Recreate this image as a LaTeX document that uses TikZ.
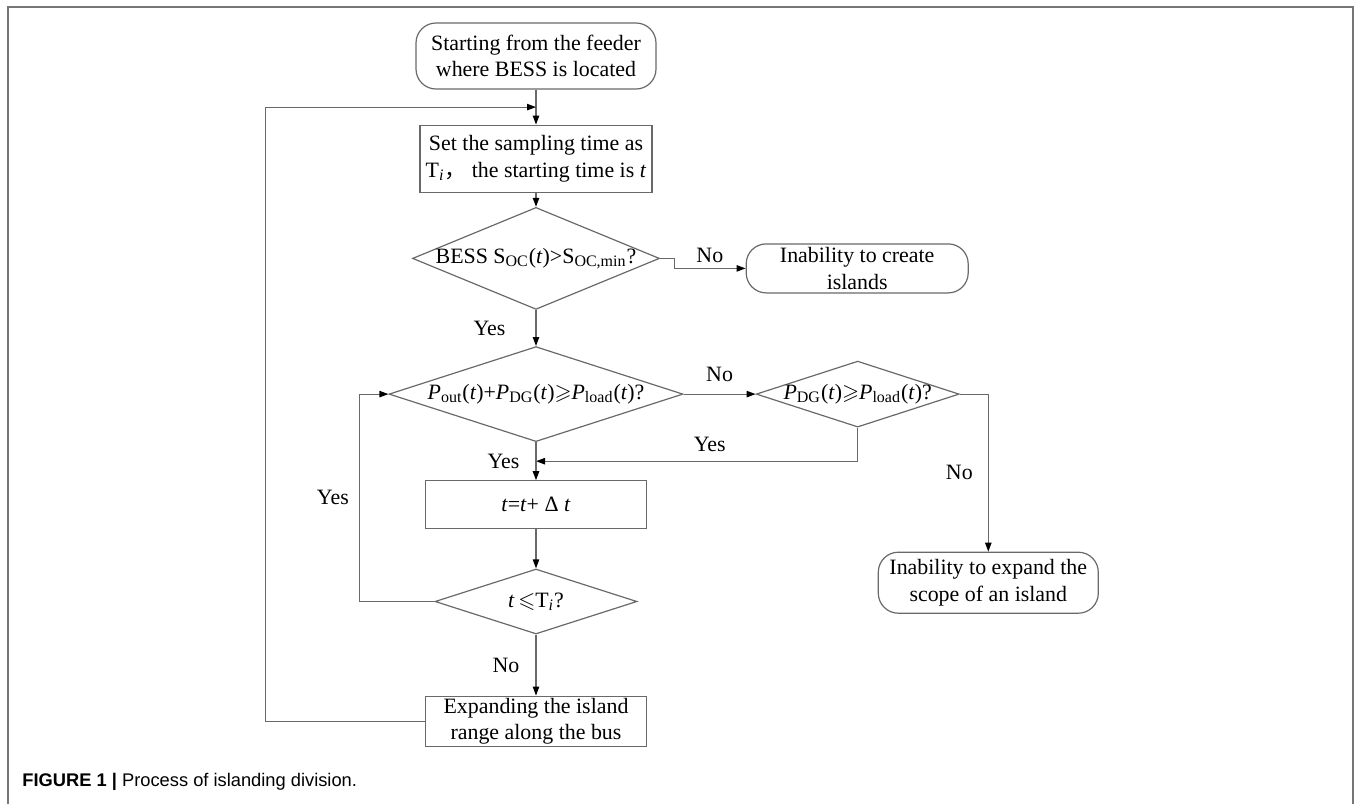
\documentclass[tikz,border=0pt]{standalone}
\usepackage{fontspec}
\usepackage{amssymb}
\setmainfont{Liberation Serif}
\newfontfamily\capfont{Liberation Sans}
\newfontfamily\cjk{Noto Sans CJK SC}
\usetikzlibrary{positioning,arrows.meta,shapes.geometric,calc}
\definecolor{linegray}{RGB}{105,105,105}
\definecolor{framegray}{RGB}{118,118,118}

\begin{document}
\begin{tikzpicture}[
  font=\fontsize{10.95}{13.2}\selectfont,
  term/.style={draw=linegray, line width=0.6pt, rounded corners=10pt, align=center, inner sep=1pt},
  proc/.style={draw=linegray, line width=0.6pt, align=center, inner sep=1pt},
  cond/.style={draw=linegray, line width=0.6pt, diamond, inner sep=0pt},
  lbl/.style={inner sep=1pt},
  conn/.style={draw=linegray, line width=0.6pt},
  >={Triangle[length=4.5pt,width=3.2pt,color=black]}]
\useasboundingbox (0,0) rectangle (678pt,-402pt);
\draw[framegray, line width=1pt] (4pt,-402pt) |- (676.5pt,-3.25pt) -- (676.5pt,-402pt);

\node[term, minimum width=120pt, minimum height=33pt] (start) at (268pt,-28pt) {Starting from the feeder\\where BESS is located};
\node[proc, below=17.5pt of start, minimum width=116pt, minimum height=33.5pt] (sample) {Set the sampling time as\\T\textsubscript{\textit{i}}{\cjk ，} the starting time is \textit{t}};
\node[cond, below=7pt of sample, minimum width=123.5pt, minimum height=51pt,
  label=center:{BESS S\textsubscript{OC}(\textit{t})>S\textsubscript{OC,min}?}] (bess) {};
\node[term, right=42.75pt of bess, yshift=-5pt, minimum width=111pt, minimum height=24.5pt] (create) {Inability to create\\islands};
\node[cond, below=18pt of bess, minimum width=147pt, minimum height=47.5pt,
  label=center:{\textit{P}\textsubscript{out}(\textit{t})+\textit{P}\textsubscript{DG}(\textit{t})$\geqslant$\textit{P}\textsubscript{load}(\textit{t})?}] (power) {};
\node[cond, right=36pt of power, minimum width=101.5pt, minimum height=33pt,
  label=center:{\textit{P}\textsubscript{DG}(\textit{t})$\geqslant$\textit{P}\textsubscript{load}(\textit{t})?}] (dg) {};
\node[proc, below=19pt of power, minimum width=110.5pt, minimum height=24pt] (inc) {\textit{t}=\textit{t}+ Δ \textit{t}};
\node[cond, below=19.5pt of inc, minimum width=101pt, minimum height=32.5pt,
  label=center:{\textit{t}\,$\leqslant$T\textsubscript{\textit{i}}?}] (check) {};
\node[proc, below=30.5pt of check, minimum width=110.5pt, minimum height=24.5pt] (expand) {Expanding the island\\range along the bus};
\node[term, below=78.75pt of dg.east, xshift=14.25pt, minimum width=110pt, minimum height=30.5pt] (scope) {Inability to expand the\\scope of an island};

\coordinate (join) at ($(start.south)!0.5!(sample.north)$);
\coordinate (yesjoin) at ($(power.south)!0.5!(inc.north)$);

\draw[conn, ->] (start) -- (sample);
\draw[conn, ->] (sample) -- (bess);
\draw[conn, ->] (bess.east) -- ++(7pt,0) |- node[lbl, above=1.5pt, pos=0.75]{No} (create.west);
\draw[conn, ->] (bess) -- node[lbl, left=14pt]{Yes} (power);
\draw[conn, ->] (power) -- node[lbl, above=5pt]{No} (dg);
\draw[conn, ->] (dg.south) |- node[lbl, above=3.5pt, pos=0.73]{Yes} (yesjoin);
\draw[conn, ->] (dg.east) -| node[lbl, left=6.5pt, pos=0.75]{No} (scope.north);
\draw[conn, ->] (power) -- node[lbl, left=7pt]{Yes} (inc);
\draw[conn, ->] (inc) -- (check);
\draw[conn, ->] (check.west) -- ++(-37.5pt,0) |- node[lbl, left=4pt, pos=0.25]{Yes} (power.west);
\draw[conn, ->] (check) -- node[lbl, left=7pt]{No} (expand);
\draw[conn, ->] (expand.west) -- ++(-79.75pt,0) |- (join);

\node[anchor=west, inner sep=0pt, font=\capfont\fontsize{9.15}{11}\selectfont] (caption) at (11pt,-391pt) {\textbf{FIGURE 1 |} Process of islanding division.};
\end{tikzpicture}
\end{document}
